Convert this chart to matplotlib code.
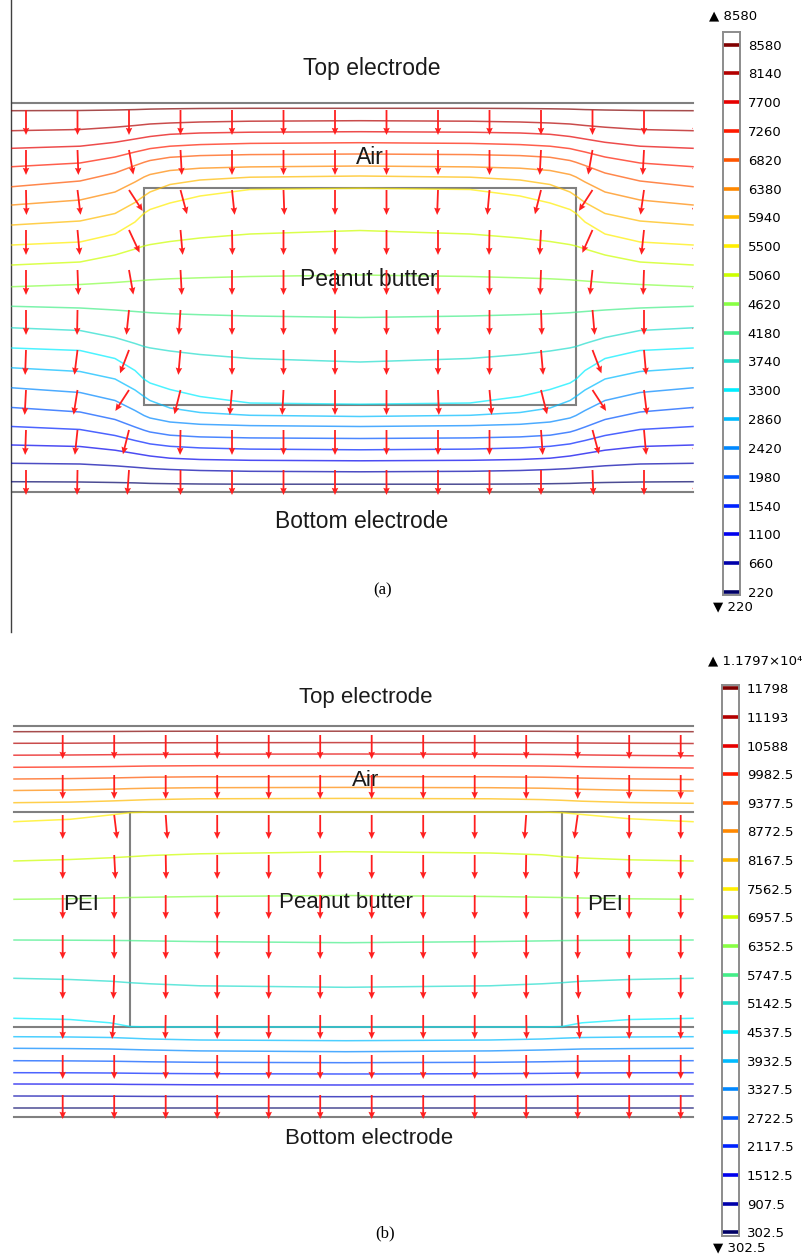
import matplotlib.pyplot as plt
from matplotlib.patches import Rectangle
import numpy as np

plt.rcParams['font.family'] = ['Liberation Sans', 'DejaVu Sans']

# ---------------- panel (a): air gap + peanut butter ----------------
A_LEVELS = [8580, 8140, 7700, 7260, 6820, 6380, 5940, 5500, 5060, 4620,
            4180, 3740, 3300, 2860, 2420, 1980, 1540, 1100, 660, 220]
A_LABELS = [str(v) for v in A_LEVELS]

# x samples (image frame) and the height of every equipotential line there
XA = [12, 80, 115, 135, 144, 150, 170, 200, 250, 360, 470, 520, 550, 570, 576, 585, 605, 640, 693]
A_LINES = [
    [110.7, 110.5, 110.0, 109.6, 109.3, 109.1, 108.8, 108.5, 108.3, 108.3, 108.3, 108.5, 108.8, 109.1, 109.3, 109.6, 110.0, 110.5, 110.7],
    [130.7, 129.5, 127.2, 125.5, 124.6, 124.0, 123.0, 122.0, 121.2, 120.7, 121.2, 122.0, 123.0, 124.0, 124.6, 125.5, 127.2, 129.5, 130.7],
    [148.3, 146.2, 142.3, 139.0, 137.5, 136.5, 134.3, 133.0, 132.2, 131.7, 132.2, 133.0, 134.3, 136.5, 137.5, 139.0, 142.3, 146.2, 148.3],
    [166.7, 163.0, 157.0, 152.0, 150.0, 148.6, 146.2, 144.6, 143.4, 142.7, 143.4, 144.6, 146.2, 148.6, 150.0, 152.0, 157.0, 163.0, 166.7],
    [186.7, 181.0, 173.0, 165.5, 162.3, 160.5, 157.3, 155.6, 154.6, 154.0, 154.6, 155.6, 157.3, 160.5, 162.3, 165.5, 173.0, 181.0, 186.7],
    [205.0, 200.0, 192.0, 182.0, 177.0, 174.5, 170.5, 168.2, 166.9, 166.0, 166.9, 168.2, 170.5, 174.5, 177.0, 182.0, 192.0, 200.0, 205.0],
    [225.0, 221.0, 213.5, 202.5, 196.0, 192.0, 184.5, 180.0, 177.2, 176.0, 177.2, 180.0, 184.5, 192.0, 196.0, 202.5, 213.5, 221.0, 225.0],
    [245.0, 242.0, 234.0, 222.0, 213.3, 209.5, 203.0, 196.0, 189.5, 188.3, 189.5, 196.0, 203.0, 209.5, 213.3, 222.0, 234.0, 242.0, 245.0],
    [265.0, 262.0, 255.0, 249.0, 246.0, 244.6, 241.5, 238.0, 234.0, 230.5, 234.0, 238.0, 241.5, 244.6, 246.0, 249.0, 255.0, 262.0, 265.0],
    [286.7, 284.5, 282.5, 281.0, 280.3, 279.8, 278.8, 277.8, 276.5, 275.0, 276.5, 277.8, 278.8, 279.8, 280.3, 281.0, 282.5, 284.5, 286.7],
    [306.3, 308.0, 310.0, 311.5, 312.2, 312.7, 313.7, 314.7, 316.0, 317.5, 316.0, 314.7, 313.7, 312.7, 312.2, 311.5, 310.0, 308.0, 306.3],
    [327.8, 330.5, 337.5, 343.5, 346.5, 347.9, 351.0, 354.5, 358.5, 362.0, 358.5, 354.5, 351.0, 347.9, 346.5, 343.5, 337.5, 330.5, 327.8],
    [348.0, 350.5, 358.5, 370.5, 379.2, 383.0, 389.5, 396.5, 403.0, 404.2, 403.0, 396.5, 389.5, 383.0, 379.2, 370.5, 358.5, 350.5, 348.0],
    [367.8, 371.5, 379.0, 390.0, 396.5, 400.5, 408.0, 412.5, 415.3, 416.5, 415.3, 412.5, 408.0, 400.5, 396.5, 390.0, 379.0, 371.5, 367.8],
    [387.8, 392.5, 400.5, 410.5, 415.5, 418.0, 422.0, 424.3, 425.6, 426.5, 425.6, 424.3, 422.0, 418.0, 415.5, 410.5, 400.5, 392.5, 387.8],
    [407.5, 412.0, 419.5, 427.0, 430.2, 432.0, 435.2, 436.9, 437.9, 438.5, 437.9, 436.9, 435.2, 432.0, 430.2, 427.0, 419.5, 412.0, 407.5],
    [426.5, 429.5, 435.5, 440.5, 442.5, 443.9, 446.3, 447.9, 449.1, 449.8, 449.1, 447.9, 446.3, 443.9, 442.5, 440.5, 435.5, 429.5, 426.5],
    [445.0, 446.5, 450.2, 453.5, 455.0, 456.0, 458.2, 459.5, 460.3, 460.8, 460.3, 459.5, 458.2, 456.0, 455.0, 453.5, 450.2, 446.5, 445.0],
    [463.3, 464.0, 465.8, 467.3, 468.0, 468.5, 469.5, 470.5, 471.3, 471.8, 471.3, 470.5, 469.5, 468.5, 468.0, 467.3, 465.8, 464.0, 463.3],
    [481.7, 482.0, 482.5, 482.9, 483.2, 483.4, 483.7, 484.0, 484.2, 484.2, 484.2, 484.0, 483.7, 483.4, 483.2, 482.9, 482.5, 482.0, 481.7],
]
# field arrow tilt from vertical (deg, + = towards right), rows top->bottom
A_ANGLES = [
    [0, 0, 0, 0, 0, 0, 0, 0, 0, 0, 0, 0, 0, 0],
    [0, 2, 10, 3, 0, 0, 0, 0, 0, 0, -3, -10, -3, 0],
    [1, 7, 33, 15, 6, 2, 0, 0, -2, -5, -14, -33, -8, -1],
    [0, 5, 25, 5, 1, 0, 0, 0, 0, -1, -3, -24, -6, 0],
    [0, 2, 10, 3, 0, 0, 0, 0, 0, 0, -2, -6, -2, 0],
    [0, -1, -6, -4, 0, 0, 0, 0, 0, 0, 2, 5, 0, 0],
    [-2, -7, -21, -5, 0, 0, 0, 0, 0, 0, 5, 21, 5, 0],
    [-3, -9, -33, -14, -5, -3, 0, 0, 2, 5, 14, 33, 7, 0],
    [-2, -6, -14, -1, 0, 0, 0, 0, 0, 0, 4, 15, 5, 0],
    [0, -1, -4, 0, 0, 0, 0, 0, 0, 0, 0, 2, 0, 0],
]

# ---------------- panel (b): air + PEI + peanut butter ----------------
B_LEVELS = [11798, 11193, 10588, 9982.5, 9377.5, 8772.5, 8167.5, 7562.5, 6957.5, 6352.5,
            5747.5, 5142.5, 4537.5, 3932.5, 3327.5, 2722.5, 2117.5, 1512.5, 907.5, 302.5]
B_LABELS = ['11798', '11193', '10588', '9982.5', '9377.5', '8772.5', '8167.5', '7562.5',
            '6957.5', '6352.5', '5747.5', '5142.5', '4537.5', '3932.5', '3327.5', '2722.5',
            '2117.5', '1512.5', '907.5', '302.5']
XB = [14, 70, 110, 130, 150, 200, 346, 490, 542, 562, 582, 630, 693]
B_LINES = [
    [731.7, 731.6, 731.5, 731.4, 731.3, 731.2, 731.2, 731.2, 731.3, 731.4, 731.5, 731.6, 731.7],
    [743.3, 743.2, 743.0, 742.9, 742.8, 742.7, 742.6, 742.7, 742.8, 742.9, 743.0, 743.3, 743.5],
    [755.2, 755.0, 754.7, 754.5, 754.4, 754.2, 754.0, 754.2, 754.4, 754.6, 754.9, 755.4, 755.8],
    [767.3, 767.0, 766.6, 766.3, 766.0, 765.7, 765.5, 765.7, 766.0, 766.3, 766.7, 767.4, 768.0],
    [779.0, 778.6, 778.0, 777.6, 777.2, 776.8, 776.6, 776.8, 777.2, 777.6, 778.1, 778.9, 779.5],
    [790.5, 790.0, 789.2, 788.6, 788.2, 787.7, 787.4, 787.7, 788.2, 788.6, 789.3, 790.3, 791.0],
    [802.7, 802.1, 801.0, 800.3, 799.6, 798.8, 798.4, 798.8, 799.6, 800.3, 801.2, 802.5, 803.3],
    [821.7, 819.3, 815.0, 812.7, 812.0, 812.0, 812.0, 812.0, 812.0, 812.7, 814.5, 818.8, 821.7],
    [861.0, 859.5, 857.8, 856.7, 855.5, 853.8, 851.7, 853.0, 854.8, 856.7, 858.0, 859.8, 861.0],
    [899.3, 898.8, 898.0, 897.5, 897.2, 896.5, 895.5, 896.5, 897.2, 897.5, 898.0, 898.8, 899.3],
    [940.0, 940.2, 940.4, 940.6, 940.9, 941.6, 942.7, 941.6, 940.9, 940.6, 940.4, 940.2, 940.0],
    [978.3, 979.5, 981.2, 982.7, 983.8, 985.8, 987.3, 985.8, 983.8, 982.7, 981.2, 979.5, 978.3],
    [1018.3, 1019.5, 1022.8, 1026.5, 1027.0, 1027.0, 1027.0, 1027.0, 1027.0, 1026.5, 1022.8, 1019.5, 1018.3],
    [1036.7, 1037.0, 1037.5, 1038.2, 1039.0, 1040.0, 1040.7, 1040.0, 1039.0, 1038.2, 1037.5, 1037.0, 1036.7],
    [1048.3, 1048.6, 1049.0, 1049.5, 1050.0, 1050.9, 1051.7, 1050.9, 1050.0, 1049.5, 1049.0, 1048.6, 1048.3],
    [1060.7, 1060.9, 1061.2, 1061.5, 1061.8, 1062.3, 1062.7, 1062.3, 1061.8, 1061.5, 1061.2, 1060.9, 1060.7],
    [1072.7, 1072.8, 1073.0, 1073.2, 1073.4, 1073.7, 1074.0, 1073.7, 1073.4, 1073.2, 1073.0, 1072.8, 1072.7],
    [1084.0, 1084.1, 1084.2, 1084.4, 1084.5, 1084.8, 1085.0, 1084.8, 1084.5, 1084.4, 1084.2, 1084.1, 1084.0],
    [1096.0, 1096.1, 1096.2, 1096.3, 1096.4, 1096.5, 1096.7, 1096.5, 1096.4, 1096.3, 1096.2, 1096.1, 1096.0],
    [1107.5, 1107.5, 1107.5, 1107.5, 1107.5, 1107.5, 1107.5, 1107.5, 1107.5, 1107.5, 1107.5, 1107.5, 1107.5],
]
B_ANGLES = [
    [0, 0, 0, 0, 0, 0, 0, 0, 0, 0, 0, 0, 0],
    [0, 0, 0, 0, 0, 0, 0, 0, 0, 0, 0, 0, 0],
    [0, 7, 4, 0, 0, 0, 0, 0, 0, -4, -8, 0, 0],
    [0, 3, 1, 0, 0, 0, 0, 0, 0, -1, -3, 0, 0],
    [0, 0, 0, 0, 0, 0, 0, 0, 0, 0, 0, 0, 0],
    [0, 0, 0, 0, 0, 0, 0, 0, 0, 0, 0, 0, 0],
    [0, -2, 0, 0, 0, 0, 0, 0, 0, 0, 2, 0, 0],
    [0, -5, -1, 0, 0, 0, 0, 0, 0, 1, 5, 0, 0],
    [0, 0, 0, 0, 0, 0, 0, 0, 0, 0, 0, 0, 0],
    [0, 0, 0, 0, 0, 0, 0, 0, 0, 0, 0, 0, 0],
]

# rainbow colours of the 20 levels (top -> bottom)
LEVEL_COLORS = ['#800000', '#b30000', '#e60000', '#ff1a00', '#ff5500', '#ff8800', '#ffbb00',
                '#ffee00', '#ccff00', '#88ff44', '#44ee88', '#22ddcc', '#00eeff', '#00bbff',
                '#0088ff', '#0055ff', '#0022ff', '#0000ee', '#0000aa', '#000066']
GRAY = '#808080'
ARROW = '#ff1f1f'
TXT = '#1a1a1a'

fig = plt.figure(figsize=(8.06, 12.56), dpi=100)
ax = fig.add_axes([0, 0, 1, 1])
ax.set_xlim(0, 806)
ax.set_ylim(1256, 0)
ax.axis('off')


def field_arrows(cols, rows, angles, clip, length=25):
    X, Y = np.meshgrid(cols, rows)
    th = np.radians(np.array(angles, dtype=float))
    U = length * np.sin(th)
    V = length * np.cos(th)
    q = ax.quiver(X, Y, U, V, color=ARROW, angles='xy', scale_units='xy', scale=1,
                  units='dots', width=1.8, headwidth=3.6, headlength=4.0,
                  headaxislength=3.6, pivot='tail', zorder=4)
    q.set_clip_path(Rectangle((clip[0], 0), clip[1] - clip[0], 1256, transform=ax.transData))


def colorbar(x0, y0, y1, lim, levels, labels):
    cax = fig.add_axes([x0 / 806, 1 - y1 / 1256, 17 / 806, (y1 - y0) / 1256])
    cax.set_xlim(0, 1)
    cax.set_ylim(*lim)
    for lv, c in zip(levels, LEVEL_COLORS):
        cax.axhline(lv, color=c, lw=2.6)
    cax.set_xticks([])
    cax.yaxis.tick_right()
    cax.set_yticks(levels)
    cax.set_yticklabels(labels, fontfamily='DejaVu Sans', fontsize=9.5)
    cax.tick_params(axis='y', length=0, pad=5.5)
    for s in cax.spines.values():
        s.set_color('#8c8c8c')
        s.set_linewidth(1.4)


# ---- panel (a) ----
ax.plot([11, 11], [0, 632], color='#404040', lw=1.0)
ax.plot([12, 693], [102.5, 102.5], color=GRAY, lw=1.5, zorder=1)
ax.plot([12, 693], [491.7, 491.7], color=GRAY, lw=1.5, zorder=1)
ax.add_patch(Rectangle((144, 188), 432, 217, fill=False, ec=GRAY, lw=1.5, zorder=1))
for ys, c in zip(A_LINES, LEVEL_COLORS):
    ax.plot(XA, ys, color=c, lw=1.1, alpha=0.7, zorder=2)
field_arrows(np.linspace(26, 695.5, 14), np.arange(110, 471, 40), A_ANGLES, (12, 693))

ax.text(372, 68, 'Top electrode', fontsize=16.5, color=TXT, ha='center', va='center')
ax.text(370, 158, 'Air', fontsize=16.5, color=TXT, ha='center', va='center')
ax.text(369, 280, 'Peanut butter', fontsize=16.5, color=TXT, ha='center', va='center')
ax.text(362, 521, 'Bottom electrode', fontsize=16.5, color=TXT, ha='center', va='center')
ax.text(383, 590, '(a)', fontsize=12, family='Liberation Serif', color='black', ha='center', va='center')

colorbar(723, 32, 595, (174.2, 8770.9), A_LEVELS, A_LABELS)
ax.text(709, 16, '\u25b2 8580', fontsize=9.5, family='DejaVu Sans', ha='left', va='center')
ax.text(713, 607, '\u25bc 220', fontsize=9.5, family='DejaVu Sans', ha='left', va='center')

# ---- panel (b) ----
ax.plot([14, 693], [726, 726], color=GRAY, lw=1.5, zorder=1)
ax.plot([14, 693], [811.7, 811.7], color=GRAY, lw=1.5, zorder=1)
ax.plot([14, 693], [1027.3, 1027.3], color=GRAY, lw=1.5, zorder=1)
ax.plot([130, 130], [811.7, 1027.3], color=GRAY, lw=1.5, zorder=1)
ax.plot([562, 562], [811.7, 1027.3], color=GRAY, lw=1.5, zorder=1)
ax.plot([14, 693], [1117, 1117], color=GRAY, lw=1.5, zorder=1)
for ys, c in zip(B_LINES, LEVEL_COLORS):
    ax.plot(XB, ys, color=c, lw=1.1, alpha=0.7, zorder=2)
field_arrows(np.linspace(62.7, 680.7, 13), np.arange(735, 1096, 40), B_ANGLES, (14, 693), length=24)

ax.text(366, 698, 'Top electrode', fontsize=16, color=TXT, ha='center', va='center')
ax.text(366, 781, 'Air', fontsize=16, color=TXT, ha='center', va='center')
ax.text(81, 905, 'PEI', fontsize=16, color=TXT, ha='center', va='center')
ax.text(605, 905, 'PEI', fontsize=16, color=TXT, ha='center', va='center')
ax.text(346, 903, 'Peanut butter', fontsize=16, color=TXT, ha='center', va='center')
ax.text(369, 1138, 'Bottom electrode', fontsize=16, color=TXT, ha='center', va='center')
ax.text(385, 1233, '(b)', fontsize=12, family='Liberation Serif', color='black', ha='center', va='center')

colorbar(722, 685, 1236, (224.3, 11867.7), B_LEVELS, B_LABELS)
ax.text(708, 661, '\u25b2 1.1797\u00d710\u2074', fontsize=9.5, family='DejaVu Sans', ha='left', va='center')
ax.text(713, 1248, '\u25bc 302.5', fontsize=9.5, family='DejaVu Sans', ha='left', va='center')

fig.savefig('out.png', dpi=100)
